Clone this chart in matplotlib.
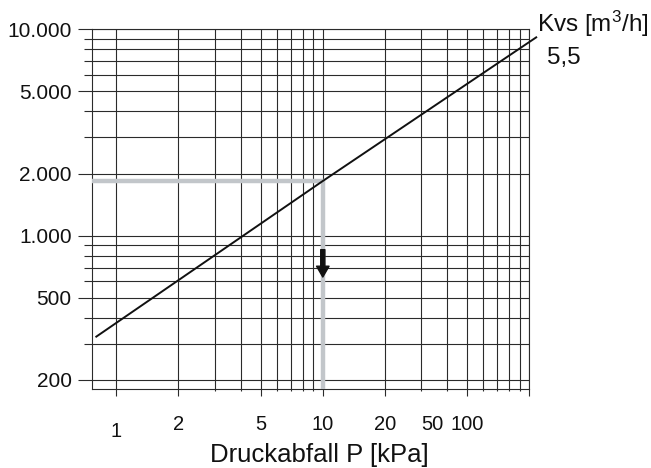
import matplotlib
matplotlib.use('Agg')
import matplotlib.pyplot as plt
import matplotlib.transforms as mtransforms
from matplotlib.ticker import FixedLocator, FixedFormatter, NullFormatter
from matplotlib.patches import FancyArrowPatch

plt.rcParams['font.family'] = ['Liberation Sans', 'DejaVu Sans']
plt.rcParams['mathtext.fontset'] = 'custom'
plt.rcParams['mathtext.rm'] = 'Liberation Sans'
plt.rcParams['mathtext.it'] = 'Liberation Sans'
plt.rcParams['mathtext.bf'] = 'Liberation Sans'

# ---- data ----
curve_P = [0.8, 10, 108]          # kPa
curve_Q = [324, 1840, 9140]       # l/h
read_P = 10
read_Q = 1840
arrow_Q = [855, 630]

y_major = [200, 500, 1000, 2000, 5000, 10000]
y_major_labels = ['200', '500', '1.000', '2.000', '5.000', '10.000']
y_minor = [300, 400, 600, 700, 800, 900, 3000, 4000, 6000, 7000, 8000, 9000]
x_major = [1, 2, 5, 10, 20, 50, 100]
x_minor = [3, 4, 6, 7, 8, 9, 30, 40, 60, 70, 80, 90]
x_label_texts = ['1', '2', '5', '10', '20', '50', '100']
x_label_at = [1, 2, 5, 10, 20, 34, 50]
xlim = (0.76, 100)
ylim = (180, 10000)
series_name = r'Kvs [m$^{3}$/h]'
series_value = '5,5'
x_title = 'Druckabfall P [kPa]'

W, H = 651, 468
gc = '#2b2b2b'
lw = 0.8

fig = plt.figure(figsize=(W / 100, H / 100), dpi=100)
ax = fig.add_axes([91.7 / W, 1 - 389.3 / H, (529.3 - 91.7) / W, 360 / H])
ax.set_xscale('log')
ax.set_yscale('log')
ax.set_xlim(xlim)
ax.set_ylim(ylim)

for sp in ax.spines.values():
    sp.set_color(gc)
    sp.set_linewidth(lw)

ax.yaxis.set_major_locator(FixedLocator(y_major))
ax.yaxis.set_major_formatter(FixedFormatter(y_major_labels))
ax.yaxis.set_minor_locator(FixedLocator(y_minor))
ax.yaxis.set_minor_formatter(NullFormatter())
ax.xaxis.set_major_locator(FixedLocator(x_major))
ax.xaxis.set_major_formatter(NullFormatter())
ax.xaxis.set_minor_locator(FixedLocator(x_minor))
ax.xaxis.set_minor_formatter(NullFormatter())

ax.grid(True, which='both', color=gc, lw=lw)
ax.set_axisbelow(True)
ax.tick_params(axis='y', which='major', length=10, width=lw, color=gc,
               labelsize=15, pad=4.5, labelcolor='#111111')
ax.tick_params(axis='y', which='minor', length=6, width=lw, color=gc)
ax.tick_params(axis='x', which='major', length=5, width=lw, color=gc)
ax.tick_params(axis='x', which='minor', length=1.5, width=lw, color=gc)

# reading guide lines (grey)
ax.plot([xlim[0], read_P, read_P], [read_Q, read_Q, ylim[0]],
        color='#c2c6ca', lw=3.2, solid_capstyle='butt', solid_joinstyle='miter',
        zorder=3)

# Kvs curve
ax.plot(curve_P, curve_Q, color='#111111', lw=1.4, clip_on=False, zorder=4)

# arrow
arr = FancyArrowPatch((read_P, arrow_Q[0]), (read_P, arrow_Q[1]),
                      arrowstyle='simple,tail_width=0.25,head_width=0.75,head_length=0.65',
                      mutation_scale=12, color='#111111', shrinkA=0, shrinkB=0,
                      zorder=5)
ax.add_patch(arr)

# x tick labels (placed as in the reference)
tr = mtransforms.blended_transform_factory(ax.transData, fig.transFigure)
for i, (t, xp) in enumerate(zip(x_label_texts, x_label_at)):
    ypix = 431.5 if i == 0 else 425
    ax.text(xp, 1 - ypix / H, t, transform=tr, ha='center', va='center',
            fontsize=14.5, color='#111111', clip_on=False)

fig.text(319.5 / W, 1 - 462 / H, x_title, fontsize=18.5, ha='center',
         va='baseline', color='#111111')
fig.text(537 / W, 1 - 32 / H, series_name, fontsize=17.5, ha='left',
         va='baseline', color='#111111')
fig.text(547 / W, 1 - 64 / H, series_value, fontsize=17.5, ha='left',
         va='baseline', color='#111111')

fig.savefig('out.png', dpi=100)
